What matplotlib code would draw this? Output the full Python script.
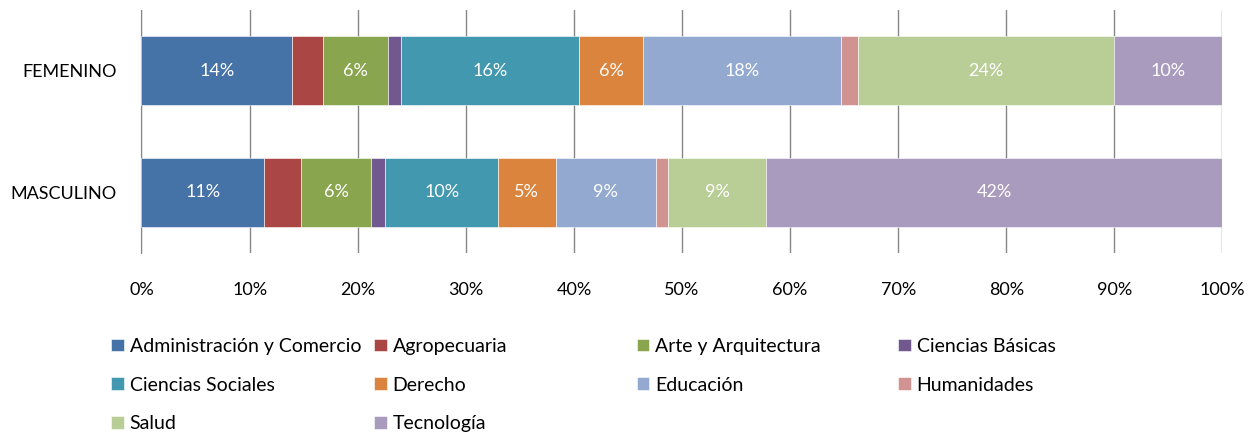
import numpy as np
import matplotlib
matplotlib.use("Agg")
import matplotlib.pyplot as plt

plt.rcParams['font.family'] = ['Lato', 'DejaVu Sans']

grupos = ['MASCULINO', 'FEMENINO']
areas = ['Administración y Comercio', 'Agropecuaria', 'Arte y Arquitectura',
         'Ciencias Básicas', 'Ciencias Sociales', 'Derecho', 'Educación',
         'Humanidades', 'Salud', 'Tecnología']
# porcentajes
masculino = [11.35, 3.45, 6.4, 1.35, 10.45, 5.3, 9.3, 1.15, 9.0, 42.25]
femenino = [13.95, 2.85, 6.05, 1.2, 16.45, 5.9, 18.3, 1.6, 23.7, 10.0]
colores = ['#4572A7', '#AA4643', '#89A54E', '#71588F', '#4198AF',
           '#DB843D', '#93A9CF', '#D19392', '#B9CD96', '#A99BBD']
xticks = np.arange(0, 101, 10)

datos = np.array([masculino, femenino])

fig = plt.figure(figsize=(12.51, 4.32), dpi=100)
ax = fig.add_axes([0.1131, 0.4144, 0.8641, 0.5625])

y = np.arange(len(grupos))
izq = np.zeros(len(grupos))
barras = []
for k in range(len(areas)):
    b = ax.barh(y, datos[:, k], left=izq, height=0.57, color=colores[k],
                edgecolor='white', linewidth=0.4, label=areas[k], zorder=3)
    barras.append(b)
    for i in range(len(grupos)):
        v = datos[i, k]
        if v >= 4.5:
            ax.text(izq[i] + v / 2, y[i], '%d%%' % round(v), color='white',
                    ha='center', va='center', fontsize=13, zorder=4)
    izq = izq + datos[:, k]

ax.set_xlim(0, 100)
ax.set_ylim(-0.5, 1.5)
ax.set_xticks(xticks)
ax.set_xticklabels(['%d%%' % t for t in xticks], fontsize=13)
ax.set_yticks(y)
ax.set_yticklabels(grupos, fontsize=13)
ax.tick_params(axis='x', length=0, pad=21)
ax.tick_params(axis='y', length=0, pad=18)
ax.grid(axis='x', color='#868686', linewidth=1, zorder=0)
for s in ['top', 'right', 'bottom']:
    ax.spines[s].set_visible(False)
ax.spines['left'].set_color('#868686')

# leyenda en 4 columnas de ancho fijo
xcols = [0.089, 0.299, 0.509, 0.718]
for j in range(4):
    hs = [barras[k] for k in range(j, len(areas), 4)]
    ls = [areas[k] for k in range(j, len(areas), 4)]
    fig.legend(hs, ls, loc='upper left', bbox_to_anchor=(xcols[j], 0.218),
               frameon=False, fontsize=14, handlelength=0.65, handleheight=0.65,
               handletextpad=0.3, labelspacing=1.12, borderpad=0, borderaxespad=0)

fig.savefig('out.png', dpi=100)
